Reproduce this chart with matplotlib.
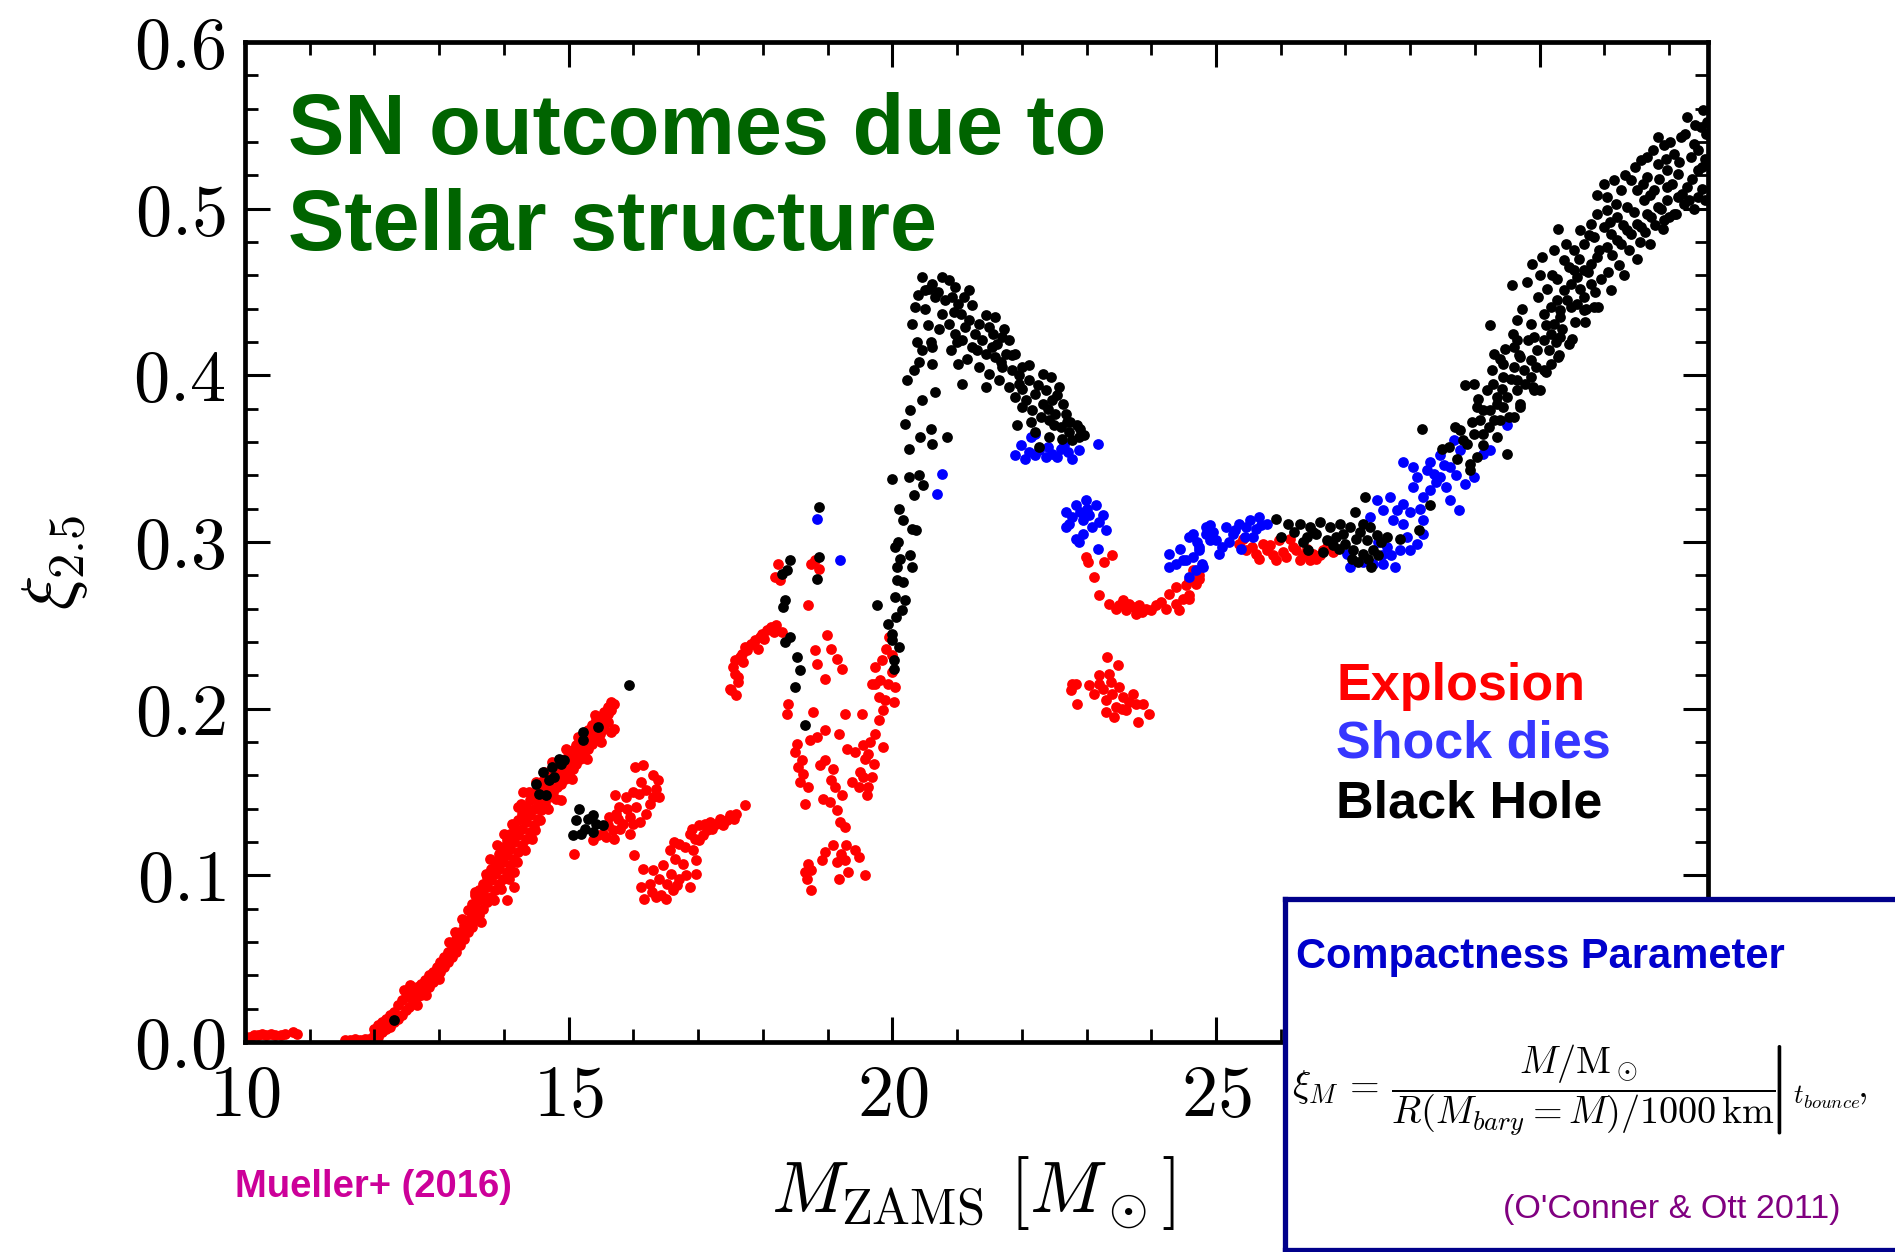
import matplotlib
matplotlib.use("Agg")
import matplotlib.pyplot as plt
from matplotlib.ticker import MultipleLocator

plt.rcParams['mathtext.fontset'] = 'cm'
plt.rcParams['font.family'] = ['Liberation Sans', 'DejaVu Sans']

# ---------------- data ----------------
x_ticks = [10, 15, 20, 25, 30]
x_tick_labels = [r'$10$', r'$15$', r'$20$', r'$25$', r'$30$']
y_ticks = [0.0, 0.1, 0.2, 0.3, 0.4, 0.5, 0.6]
y_tick_labels = [r'$0.0$', r'$0.1$', r'$0.2$', r'$0.3$', r'$0.4$', r'$0.5$', r'$0.6$']

# Explosion (red)
expl_low = [(10.02, .003), (10.08, .003), (10.14, .004), (10.20, .004), (10.27, .005), (10.33, .004),
            (10.40, .005), (10.47, .004), (10.55, .004), (10.62, .005), (10.74, .006), (10.80, .005),
            (11.55, .001), (11.62, .001), (11.70, .002), (11.78, .001), (11.85, .002), (11.92, .002)]
expl_band = [(12.00, [.004, .008]), (12.06, [.003, .010]), (12.12, [.006, .012]), (12.18, [.008, .014]),
             (12.24, [.009, .016]), (12.30, [.012, .018]), (12.36, [.014, .022]), (12.42, [.016, .025]),
             (12.48, [.019, .027]), (12.54, [.021, .029]), (12.60, [.024, .030]), (12.66, [.027, .033]),
             (12.72, [.028, .035]), (12.78, [.031, .037]), (12.84, [.033, .040]), (12.90, [.036, .042]),
             (12.96, [.039, .045]), (13.02, [.042, .048]), (13.08, [.045, .051]), (13.14, [.048, .054]),
             (13.20, [.051, .058]), (13.26, [.054, .062]), (13.32, [.058, .066]), (13.38, [.062, .070]),
             (13.44, [.066, .073]), (13.50, [.069, .077, .083]), (13.56, [.073, .081, .088]),
             (13.62, [.076, .085, .091]), (13.68, [.080, .089, .095]), (13.74, [.084, .093, .099]),
             (13.80, [.087, .097, .104]), (13.86, [.091, .101, .108]), (13.92, [.095, .104, .113]),
             (13.98, [.098, .108, .117]), (14.04, [.102, .112, .121, .085]), (14.10, [.106, .116, .125]),
             (14.16, [.110, .120, .129, .102]), (14.22, [.114, .124, .133, .141]), (14.28, [.118, .128, .137]),
             (14.34, [.122, .132, .141]), (14.40, [.126, .136, .145]), (14.46, [.130, .140, .149]),
             (14.52, [.134, .144, .153]), (14.58, [.139, .148, .156]), (14.64, [.143, .151, .159]),
             (14.70, [.147, .154, .162]), (14.76, [.150, .157, .164]), (14.82, [.153, .160, .166]),
             (14.88, [.155, .162, .168, .145]), (14.94, [.158, .165, .170]), (15.00, [.161, .167, .172]),
             (15.06, [.164, .170, .175]), (15.12, [.167, .173, .178]), (15.18, [.170, .176, .181]),
             (15.24, [.173, .179, .184]), (15.30, [.176, .182, .187]), (15.36, [.179, .185, .190]),
             (15.42, [.182, .188, .193]), (15.48, [.185, .191, .195]), (15.54, [.188, .194, .198]),
             (15.60, [.192, .197, .201]), (15.66, [.186, .199, .204]), (15.70, [.203, .188])]
expl_band_scatter = [(13.55, .090), (13.65, .072), (13.72, .101), (13.85, .085), (13.90, .118), (13.96, .092),
                     (14.00, .125), (14.08, .098), (14.12, .131), (14.20, .108), (14.26, .143), (14.32, .115),
                     (14.38, .150), (14.44, .122), (14.50, .156), (14.56, .133), (14.62, .162), (14.68, .140),
                     (14.74, .168), (14.80, .146), (13.45, .079), (13.35, .074), (13.25, .066), (12.55, .034),
                     (12.45, .031), (12.65, .022), (12.80, .028), (13.00, .038), (13.15, .060), (14.96, .176),
                     (15.05, .158), (15.15, .183), (15.28, .170), (15.40, .196), (15.50, .180), (13.78, .110),
                     (14.15, .093), (14.30, .150), (14.48, .127)]
expl_mid = [(15.09, .113), (15.37, .121), (15.45, .124), (15.58, .123), (15.53, .125), (15.68, .127),
            (15.63, .135), (15.73, .137), (15.72, .148), (15.78, .141), (15.84, .131), (15.89, .147),
            (15.94, .135), (15.99, .131), (16.04, .141), (16.09, .149), (16.20, .151), (16.20, .137),
            (16.30, .147), (16.38, .157), (16.40, .147), (16.02, .165), (16.15, .166), (15.80, .128),
            (15.90, .140), (16.10, .132), (16.25, .143), (15.60, .130), (15.70, .122), (16.00, .150),
            (16.12, .156), (16.30, .160), (15.76, .134), (15.95, .125), (16.35, .152),
            (16.01, .112), (16.15, .104), (16.12, .093), (16.25, .095), (16.17, .086), (16.35, .087),
            (16.51, .086), (16.46, .106), (16.58, .101), (16.71, .098), (16.87, .093), (16.97, .101),
            (16.61, .091), (16.76, .107), (16.56, .115), (16.71, .119), (16.87, .125), (17.02, .130),
            (17.18, .132), (17.33, .134), (17.49, .136), (17.59, .137), (17.72, .142), (16.92, .115),
            (17.02, .121), (17.13, .127), (17.28, .131), (16.97, .109), (16.28, .090), (16.42, .088),
            (16.40, .098), (16.52, .095), (16.65, .110), (16.62, .120), (16.80, .117), (16.95, .122),
            (17.08, .124), (17.22, .128), (17.38, .130), (17.45, .133), (17.55, .134), (16.30, .103),
            (16.67, .094), (16.82, .100), (16.90, .128), (17.10, .131)]
expl_18 = [(17.49, .212), (17.59, .208), (17.54, .225), (17.64, .231), (17.75, .235), (17.85, .239),
           (17.95, .243), (17.62, .219), (17.51, .211), (17.57, .221), (17.57, .229), (17.67, .233),
           (17.82, .239), (17.98, .245), (18.13, .249), (18.29, .246), (17.62, .216), (17.72, .237),
           (17.88, .241), (18.06, .247), (18.21, .250), (18.02, .242), (18.17, .246), (17.92, .236),
           (17.70, .228),
           (18.24, .287), (18.19, .279), (18.26, .277), (18.75, .287), (18.86, .284), (18.80, .289),
           (18.70, .262), (18.99, .244), (18.80, .235), (18.83, .227), (19.06, .236), (19.14, .230),
           (19.22, .224), (18.96, .218),
           (18.39, .203), (18.37, .197), (18.78, .198), (18.96, .187), (19.17, .185), (18.83, .183),
           (18.73, .181), (18.52, .179), (18.49, .174), (18.60, .169), (18.55, .165), (18.62, .161),
           (18.57, .156), (18.70, .153), (18.65, .143), (18.88, .166), (18.96, .169), (19.09, .164),
           (19.06, .157), (19.11, .153), (19.22, .148), (18.93, .146), (19.04, .144), (19.14, .139),
           (19.19, .132), (19.27, .129),
           (19.27, .197), (19.53, .197), (19.30, .176), (19.42, .174), (19.55, .178), (19.63, .173),
           (19.73, .185), (19.86, .177), (19.71, .167), (19.68, .159), (19.55, .159), (19.37, .156),
           (19.48, .153), (19.63, .153), (19.61, .148), (19.50, .162), (19.58, .170), (19.66, .180),
           (19.73, .215), (19.94, .215), (20.04, .213), (19.79, .207), (20.02, .204), (19.86, .199),
           (19.79, .193), (19.73, .225), (19.81, .217), (19.68, .215), (19.88, .205), (19.99, .222),
           (19.84, .229), (19.90, .236), (19.95, .243), (20.00, .232),
           (19.09, .118), (18.96, .114), (19.29, .118), (19.42, .115), (19.48, .111), (18.91, .109),
           (19.14, .108), (19.27, .109), (18.70, .107), (18.65, .102), (18.75, .103), (19.32, .102),
           (19.17, .098), (19.57, .100), (18.75, .091), (19.20, .113), (18.68, .098)]
expl_23 = [(22.99, .291), (23.02, .288), (23.27, .288), (23.40, .292), (23.12, .279), (23.19, .268),
           (23.35, .263), (23.50, .262), (23.66, .263), (23.76, .257), (23.92, .260), (24.07, .262),
           (24.23, .260), (24.38, .263), (24.49, .266), (24.59, .266), (24.28, .269), (24.38, .273),
           (24.54, .274), (24.69, .275), (24.74, .278), (24.43, .259), (23.61, .259), (23.81, .262),
           (23.56, .265), (23.71, .261), (23.86, .258), (24.00, .259), (24.15, .264), (23.45, .260),
           (24.59, .277), (24.59, .268), (24.74, .280), (24.64, .283),
           (22.78, .215), (22.76, .211), (22.86, .203), (23.04, .214), (23.12, .209), (23.25, .212),
           (23.30, .205), (23.40, .209), (23.30, .198), (23.45, .201), (23.56, .207), (23.61, .199),
           (23.71, .209), (23.76, .203), (23.87, .203), (23.97, .197), (23.79, .192), (23.50, .213),
           (23.32, .231), (23.48, .226), (23.35, .221), (23.19, .215), (22.83, .215), (23.20, .220),
           (23.38, .216), (23.65, .204), (23.55, .200), (23.42, .195)]
expl_26 = [(25.36, .299), (25.47, .295), (25.62, .293), (25.78, .295), (25.88, .292), (26.03, .294),
           (26.19, .297), (26.34, .292), (26.50, .293), (26.65, .295), (26.81, .294), (25.72, .299),
           (25.98, .301), (26.14, .302), (25.93, .289), (26.29, .289), (26.55, .290), (25.55, .297),
           (25.67, .290), (25.83, .298), (26.08, .291), (26.24, .295), (26.40, .296), (26.60, .292),
           (26.72, .297), (25.42, .302), (26.45, .289)]

# Shock dies (blue)
shock_pts = [(18.83, .314), (19.19, .289), (20.76, .341), (20.69, .329),
             (21.90, .352), (21.98, .358), (22.14, .363), (22.21, .365), (22.11, .354), (22.27, .355),
             (22.37, .351), (22.47, .353), (22.60, .356), (22.71, .354), (22.78, .350), (22.88, .355),
             (23.17, .359), (22.05, .350), (22.20, .352), (22.55, .351), (22.65, .358), (22.40, .357),
             (22.68, .318), (22.83, .322), (22.99, .325), (23.14, .322), (23.25, .316), (22.73, .311),
             (22.94, .313), (23.09, .309), (23.30, .307), (22.68, .309), (22.83, .302), (22.94, .305),
             (22.88, .300), (23.17, .296), (22.90, .318), (23.04, .316), (22.78, .315), (23.20, .312),
             (23.00, .320),
             (24.28, .293), (24.38, .287), (24.54, .289), (24.64, .305), (24.74, .297), (24.85, .309),
             (24.90, .301), (24.59, .279), (24.80, .285), (24.28, .285), (24.59, .303), (24.64, .291),
             (24.74, .295), (24.85, .305), (24.90, .310), (25.00, .301), (25.05, .293), (25.10, .297),
             (25.16, .309), (25.26, .305), (25.36, .311), (25.47, .309), (25.52, .313), (25.67, .315),
             (25.78, .311), (25.57, .303), (25.39, .296), (24.69, .283), (24.79, .287), (24.49, .289),
             (24.45, .296), (24.95, .306), (25.20, .300), (25.30, .307), (25.62, .308), (25.45, .303),
             (25.70, .310), (24.70, .300),
             (27.07, .285), (27.27, .288), (27.43, .287), (27.58, .287), (27.76, .285), (27.02, .293),
             (27.38, .315), (27.48, .325), (27.69, .327), (27.58, .319), (27.74, .313), (27.64, .297),
             (27.84, .295), (27.99, .295), (28.10, .299), (28.20, .305), (27.89, .311), (27.89, .323),
             (28.05, .333), (28.10, .339), (28.20, .327), (28.31, .331), (28.36, .341), (28.46, .339),
             (28.56, .333), (28.62, .325), (28.75, .319), (27.89, .348), (28.05, .345), (28.26, .343),
             (28.46, .352), (28.62, .345), (28.67, .361), (28.77, .355), (28.85, .335), (28.98, .339),
             (29.13, .353), (29.24, .355), (29.49, .370), (28.20, .313), (27.79, .319), (27.56, .292),
             (27.95, .303), (28.00, .318), (28.15, .320), (28.40, .336), (28.52, .346), (28.70, .340),
             (27.50, .300), (27.70, .292), (28.30, .348)]

# Black hole (black)
bh_low = [(12.30, .0135), (14.49, .155), (14.60, .162), (14.75, .165), (14.85, .170), (14.93, .169),
          (14.88, .167), (14.54, .149), (14.65, .148), (14.78, .159), (14.70, .157), (15.22, .186),
          (15.22, .181), (15.46, .189), (15.93, .214),
          (15.16, .140), (15.11, .133), (15.06, .124), (15.19, .125), (15.37, .136), (15.42, .131),
          (15.53, .130), (15.37, .126), (15.25, .128), (15.30, .134),
          (18.42, .289), (18.37, .283), (18.30, .281), (18.34, .265), (18.31, .261), (18.42, .243),
          (18.34, .240), (18.52, .231), (18.57, .223), (18.50, .213), (18.65, .190), (18.86, .291),
          (18.83, .278), (18.86, .321)]
bh_peak = [(19.76, .262), (19.94, .251), (20.00, .241), (20.10, .237), (20.02, .229), (20.02, .224),
           (20.04, .267), (20.15, .259), (20.20, .265), (20.07, .277), (20.17, .276), (20.07, .285),
           (20.30, .285), (20.04, .297), (20.28, .292), (20.10, .320), (20.17, .313), (20.30, .308),
           (20.36, .307), (20.00, .338), (20.25, .339), (20.41, .340), (20.33, .328), (20.48, .334),
           (20.25, .356), (20.43, .363), (20.61, .359), (20.59, .368), (20.85, .363), (20.20, .371),
           (20.28, .379), (20.46, .385), (20.66, .390), (20.23, .397), (20.33, .403), (20.41, .408),
           (20.46, .415), (20.61, .407), (20.61, .417), (21.02, .407), (21.08, .395), (20.00, .245),
           (20.08, .300), (20.12, .290), (20.05, .255),
           (20.46, .459), (20.35, .441), (20.30, .431), (20.51, .451), (20.61, .455), (20.77, .459),
           (20.87, .457), (20.97, .453), (21.18, .451), (20.66, .447), (20.92, .447), (21.02, .443),
           (21.23, .442), (20.77, .437), (20.87, .431), (20.97, .425), (21.13, .429), (21.18, .433),
           (21.34, .431), (21.49, .429), (21.59, .435), (21.08, .421), (21.23, .417), (21.39, .421),
           (21.54, .417), (21.70, .423), (21.80, .421), (21.44, .413), (21.59, .411), (21.75, .413),
           (21.90, .413), (21.34, .405), (21.49, .401), (21.70, .405), (21.85, .403), (22.01, .405),
           (22.11, .406), (21.44, .393), (21.65, .397), (21.80, .393), (21.96, .395), (22.11, .397),
           (22.32, .401), (22.45, .399), (21.90, .387), (22.06, .385), (22.21, .389), (22.37, .391),
           (22.58, .393), (22.01, .381), (22.16, .379), (22.32, .383), (22.47, .385), (22.63, .383),
           (22.52, .377), (22.68, .377), (21.93, .370), (22.14, .372), (22.42, .373), (22.60, .369),
           (22.73, .366), (22.88, .363), (22.96, .364), (22.78, .361), (22.42, .363), (22.27, .357),
           (20.56, .452), (20.70, .450), (20.82, .445), (21.06, .437), (21.28, .425), (21.62, .419),
           (21.95, .400), (22.25, .394), (22.55, .388), (22.70, .372), (22.85, .370), (20.40, .448),
           (21.10, .447), (21.45, .436), (21.72, .428), (22.20, .366), (22.50, .370), (22.62, .362),
           (20.38, .420), (20.50, .440), (20.72, .428), (20.95, .438), (21.15, .410), (21.30, .415),
           (21.55, .425), (21.68, .408), (21.85, .412), (22.00, .392), (22.30, .375), (22.40, .380),
           (22.75, .372), (22.90, .368), (20.55, .430), (20.60, .420), (20.90, .415), (21.00, .420)]
bh_flat = [(25.93, .314), (26.11, .311), (26.01, .303), (26.29, .311), (26.45, .309), (26.60, .312),
           (26.76, .309), (26.91, .311), (27.07, .309), (27.15, .318), (27.27, .311), (27.38, .309),
           (26.40, .303), (26.55, .305), (26.71, .301), (26.86, .303), (26.96, .305), (27.17, .302),
           (27.33, .301), (27.48, .304), (27.64, .303), (26.42, .295), (26.65, .294), (27.12, .295),
           (27.27, .293), (27.43, .295), (27.30, .327), (27.84, .302), (28.13, .307), (28.31, .322),
           (26.20, .306), (26.35, .300), (26.50, .306), (26.80, .298), (27.00, .299), (27.22, .306),
           (27.55, .300), (27.35, .290), (27.20, .288), (27.10, .290), (26.90, .296), (27.50, .292),
           (27.40, .285)]
bh_rise = [(28.18, .368), (28.49, .356), (28.69, .369), (28.82, .361), (28.93, .347), (29.03, .351),
           (28.98, .365), (29.08, .373), (29.13, .379), (29.03, .381), (29.18, .391), (29.34, .387),
           (29.44, .381), (29.29, .373), (29.34, .363), (28.85, .394), (28.98, .395), (29.26, .403),
           (29.29, .413), (29.47, .416), (29.60, .417), (29.44, .399), (29.60, .405), (29.65, .397),
           (29.75, .403), (29.86, .409), (29.91, .391), (30.01, .391), (29.70, .381), (29.60, .375),
           (29.96, .415), (30.06, .421), (30.17, .425), (30.32, .423), (30.29, .411), (30.17, .407),
           (30.06, .403), (29.86, .431), (29.65, .433), (29.24, .430), (30.06, .437), (30.17, .441),
           (30.27, .445), (30.37, .451), (30.48, .455), (30.58, .459), (30.68, .463), (30.79, .467),
           (30.89, .471), (31.04, .477), (31.20, .481), (31.35, .487), (31.51, .491), (31.66, .497),
           (31.82, .501), (31.97, .505), (32.13, .507), (32.28, .513),
           (29.57, .454), (29.80, .456), (30.01, .460), (30.19, .460), (29.88, .467), (30.04, .471),
           (30.22, .475), (30.29, .488), (30.40, .479), (30.63, .487), (30.79, .491), (30.89, .497),
           (30.53, .475), (30.68, .479), (30.84, .483), (30.99, .489), (30.89, .508), (31.04, .507),
           (31.15, .517), (31.41, .517), (31.25, .511), (31.35, .501), (31.20, .495), (31.10, .485),
           (31.51, .511), (31.66, .519), (31.56, .529), (31.66, .531), (31.82, .527), (31.97, .523),
           (31.82, .543), (31.92, .538), (32.08, .533), (32.18, .543), (32.28, .555), (32.39, .539),
           (32.33, .531), (32.13, .521), (31.97, .513), (31.77, .511), (31.61, .505), (31.72, .495),
           (31.56, .489), (31.41, .485), (31.25, .479), (32.49, .549), (32.44, .523), (32.44, .507),
           (32.23, .503), (32.08, .497), (31.92, .493), (30.48, .441), (30.32, .435), (30.68, .447),
           (30.79, .455), (30.58, .443), (30.84, .441), (30.68, .439), (30.53, .463), (30.37, .469),
           (31.04, .499), (29.24, .379), (29.49, .353), (28.93, .343), (28.88, .359), (28.77, .367),
           (29.13, .365), (29.39, .373), (29.34, .383), (29.49, .387), (29.65, .391), (29.86, .399),
           (29.70, .411), (29.91, .423), (29.65, .421), (30.22, .431), (30.32, .439), (29.44, .407),
           (29.52, .375), (29.70, .383), (29.90, .393), (30.10, .402), (30.30, .412), (30.50, .422),
           (30.70, .432), (30.90, .441), (31.10, .451), (31.30, .460), (31.50, .470), (31.70, .479),
           (31.90, .488), (32.10, .497), (32.30, .505), (32.50, .512), (32.55, .530), (32.57, .545),
           (32.52, .559), (32.40, .550), (28.60, .357), (28.72, .350),
           (28.95, .372), (29.05, .386), (29.12, .358), (29.22, .369), (29.28, .395), (29.38, .410),
           (29.42, .392), (29.55, .398), (29.58, .425), (29.68, .412), (29.72, .440), (29.78, .395),
           (29.82, .421), (29.95, .405), (29.98, .447), (30.10, .430), (30.12, .452), (30.14, .415),
           (30.25, .420), (30.26, .458), (30.35, .428), (30.42, .445), (30.45, .465), (30.46, .419),
           (30.55, .432), (30.60, .470), (30.62, .452), (30.72, .440), (30.75, .462), (30.76, .484),
           (30.86, .450), (30.92, .475), (30.95, .458), (31.00, .515), (31.06, .462), (31.08, .492),
           (31.12, .472), (31.18, .503), (31.22, .466), (31.28, .490), (31.32, .520), (31.38, .475),
           (31.45, .498), (31.48, .525), (31.55, .480), (31.60, .515), (31.62, .486), (31.70, .508),
           (31.75, .535), (31.78, .490), (31.85, .518), (31.88, .500), (31.95, .530), (32.00, .495),
           (32.02, .540), (32.05, .515), (32.15, .528), (32.20, .509), (32.25, .545), (32.35, .518),
           (32.38, .500), (32.45, .535), (32.50, .525), (32.55, .505), (32.58, .552)]

# ---------------- assemble ----------------
red_pts = (list(expl_low) + [(x, y) for x, ys in expl_band for y in ys] + expl_band_scatter
           + expl_mid + expl_18 + expl_23 + expl_26)
blue_pts = shock_pts
black_pts = bh_low + bh_peak + bh_flat + bh_rise

W, H = 1895, 1252
fig = plt.figure(figsize=(W / 100, H / 100), dpi=100)
ax = fig.add_axes([245 / W, 1 - 1042 / H, (1708 - 245) / W, (1042 - 42) / H])

ms = 60
for pts, col in [(red_pts, '#ff0000'), (blue_pts, '#0000ff'), (black_pts, '#000000')]:
    ax.scatter([p[0] for p in pts], [p[1] for p in pts], s=ms, c=col, linewidths=0)

ax.set_xlim(10, 32.6)
ax.set_ylim(0, 0.6)
ax.set_xticks(x_ticks)
ax.set_xticklabels(x_tick_labels)
ax.set_yticks(y_ticks)
ax.set_yticklabels(y_tick_labels)
# the "30" label sits underneath the info box in the original
ax.get_xticklabels()[-1].set_visible(False)
ax.xaxis.set_minor_locator(MultipleLocator(1))
ax.yaxis.set_minor_locator(MultipleLocator(0.02))
ax.tick_params(which='both', direction='in', top=True, right=True)
ax.tick_params(which='major', length=18, width=2.2, labelsize=52)
ax.tick_params(which='minor', length=9.5, width=2.0)
ax.tick_params(axis='y', which='major', pad=14)
ax.tick_params(axis='x', which='major', pad=16)
for sp in ax.spines.values():
    sp.set_linewidth(3.4)

ax.set_ylabel(r'$\xi_{2.5}$', fontsize=52)
ax.yaxis.set_label_coords(-0.106, 0.48)
ax.set_xlabel(r'$M_{\mathrm{ZAMS}}\ [M_\odot]$', fontsize=52)
ax.xaxis.set_label_coords(0.498, -0.112)

# headline
fig.text(288 / W, 1 - 154 / H, 'SN outcomes due to', fontsize=61, fontweight='bold', color='#006400')
fig.text(288 / W, 1 - 250 / H, 'Stellar structure', fontsize=61, fontweight='bold', color='#006400')

# outcome key
fig.text(1336 / W, 1 - 700 / H, 'Explosion', fontsize=37.5, fontweight='bold', color='#ff0000')
fig.text(1336 / W, 1 - 758 / H, 'Shock dies', fontsize=37.5, fontweight='bold', color='#3636ff')
fig.text(1336 / W, 1 - 817 / H, 'Black Hole', fontsize=37.5, fontweight='bold', color='#000000')

fig.text(235 / W, 1 - 1197 / H, 'Mueller+ (2016)', fontsize=27.5, fontweight='bold', color='#cc0099')

# info box
bx = fig.add_axes([1285 / W, 1 - 1249.5 / H, 0.4, (1249.5 - 899) / H], zorder=5)
bx.set_facecolor('white')
bx.set_xticks([])
bx.set_yticks([])
for sp in bx.spines.values():
    sp.set_linewidth(3.8)
    sp.set_color('#00008b')
tf = fig.transFigure
bx.text(1296 / W, 1 - 968 / H, 'Compactness Parameter', fontsize=30, fontweight='bold',
        color='#0000cc', transform=tf)
formula = (r'$\xi_M\, =\, \left.\dfrac{M/\mathrm{M}_\odot}{R(M_{bary}=M)/1000\,\mathrm{km}}\!\!\right|'
           r'_{t_{bounce}}\!,$')
bx.text(1292 / W, 1 - 1090 / H, formula, fontsize=27.5, va='center', ha='left', transform=tf)
bx.text(1503 / W, 1 - 1218 / H, "(O'Conner & Ott 2011)", fontsize=24.5, color='#800080', transform=tf)

fig.savefig('out.png', dpi=100)
